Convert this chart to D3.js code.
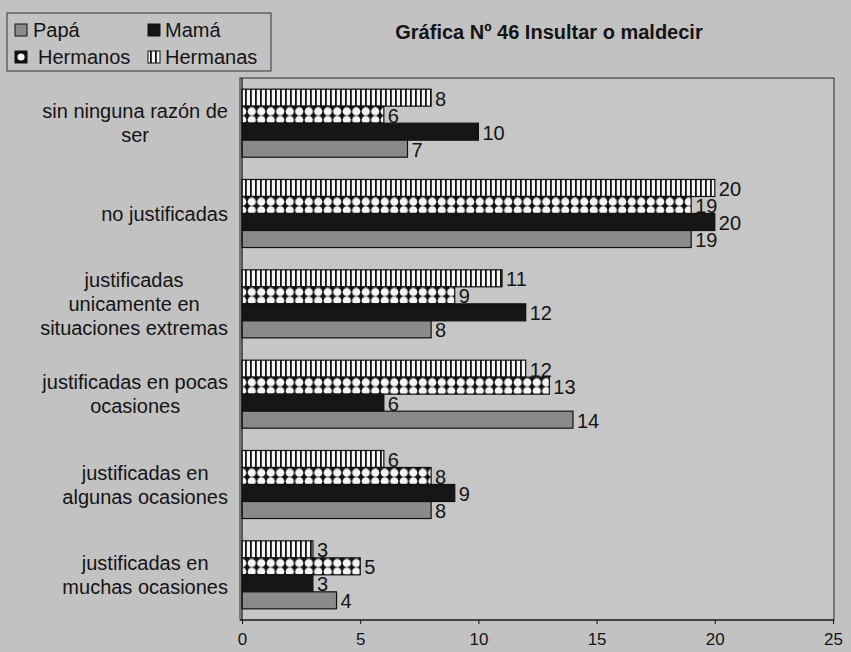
<!DOCTYPE html>
<html>
<head>
<meta charset="utf-8">
<script src="https://cdn.jsdelivr.net/npm/d3@7"></script>
<style>
  html, body { margin: 0; padding: 0; background: #c2c2c2; }
  svg { display: block; }
  text { font-family: "Liberation Sans", Arial, sans-serif; fill: #141414; }
</style>
</head>
<body>
<svg id="chart" width="851" height="652"></svg>
<script>
// ---- data ----
const categories = [
  "sin ninguna razón de|ser",
  "no justificadas",
  "justificadas|unicamente en|situaciones extremas",
  "justificadas en pocas|ocasiones",
  "justificadas en|algunas ocasiones",
  "justificadas en|muchas ocasiones"
];
const seriesNames = ["Hermanas", "Hermanos", "Mamá", "Papá"]; // top-to-bottom in each group
const hermanas = [8, 20, 11, 12, 6, 3];
const hermanos = [6, 19, 9, 13, 8, 5];
const mama = [10, 20, 12, 6, 9, 3];
const papa = [7, 19, 8, 14, 8, 4];
const xTicks = [0, 5, 10, 15, 20, 25];
const legendOrder = ["Papá", "Mamá", "Hermanos", "Hermanas"];
const titleText = "Gráfica Nº 46 Insultar o maldecir";

const seriesValues = { "Hermanas": hermanas, "Hermanos": hermanos, "Mamá": mama, "Papá": papa };

// ---- layout ----
const svg = d3.select("#chart");
const plot = { left: 240, right: 834, top: 78, bottom: 620 };

const defs = svg.append("defs");
// stripes (Hermanas)
const pStripe = defs.append("pattern").attr("id", "pStripe")
  .attr("patternUnits", "userSpaceOnUse").attr("width", 5).attr("height", 10);
pStripe.append("rect").attr("width", 5).attr("height", 10).attr("fill", "#f4f4f4");
pStripe.append("rect").attr("x", 0).attr("width", 1.8).attr("height", 10).attr("fill", "#111");
// circles (Hermanos)
const pDot = defs.append("pattern").attr("id", "pDot")
  .attr("patternUnits", "userSpaceOnUse").attr("width", 9.5).attr("height", 8.5)
  .attr("y", 1);
pDot.append("rect").attr("width", 9.5).attr("height", 8.5).attr("fill", "#111");
pDot.append("circle").attr("cx", 4.75).attr("cy", 4.25).attr("r", 4.1).attr("fill", "#f4f4f4");

const fills = { "Hermanas": "url(#pStripe)", "Hermanos": "url(#pDot)", "Mamá": "#161616", "Papá": "#8a8a8a" };

const x = d3.scaleLinear().domain([0, 25]).range([242, 833]);
const y = d3.scaleBand().domain(categories).range([plot.top, plot.bottom])
  .paddingInner(0.247).paddingOuter(0.1235);
const ySub = d3.scaleBand().domain(seriesNames).range([0, y.bandwidth()]).padding(0);

// plot frame
svg.append("rect").attr("x", plot.left).attr("y", plot.top)
  .attr("width", plot.right - plot.left).attr("height", plot.bottom - plot.top)
  .attr("fill", "#c6c6c6").attr("stroke", "#2a2a2a").attr("stroke-width", 1);

// bars
const groups = svg.append("g").selectAll("g").data(categories).join("g")
  .attr("transform", d => `translate(0,${y(d)})`);

groups.selectAll("rect").data((c, i) => seriesNames.map(s => ({ s, v: seriesValues[s][i] })))
  .join("rect")
  .attr("x", x(0))
  .attr("y", d => ySub(d.s))
  .attr("width", d => x(d.v) - x(0))
  .attr("height", ySub.bandwidth())
  .attr("fill", d => fills[d.s])
  .attr("stroke", "#111").attr("stroke-width", 1.2);

groups.selectAll("text.val").data((c, i) => seriesNames.map(s => ({ s, v: seriesValues[s][i] })))
  .join("text").attr("class", "val")
  .attr("x", d => x(d.v) + 4)
  .attr("y", d => ySub(d.s) + ySub.bandwidth() / 2 + 1)
  .attr("dominant-baseline", "central")
  .attr("font-size", 20)
  .text(d => d.v);

// category labels (wrapped, block right-aligned, lines centered)
const labelRight = 228;
const catG = svg.append("g");
categories.forEach(c => {
  const lines = c.split("|");
  const g = catG.append("g");
  const tmp = lines.map(l => g.append("text").attr("font-size", 20).text(l));
  const maxW = d3.max(tmp, t => t.node().getComputedTextLength());
  const cx = labelRight - maxW / 2;
  const cy = y(c) + y.bandwidth() / 2;
  tmp.forEach((t, i) => {
    t.attr("x", cx).attr("text-anchor", "middle")
      .attr("y", cy + (i - (lines.length - 1) / 2) * 24)
      .attr("dominant-baseline", "central");
  });
});

// axes
const xAxis = d3.axisBottom(x).tickValues(xTicks).tickSize(4).tickPadding(9);
const ax = svg.append("g").attr("transform", `translate(0,${plot.bottom})`).call(xAxis);
ax.select(".domain").attr("stroke", "#111").attr("stroke-width", 1.2)
  .attr("d", `M${plot.left},0H${plot.right}`);
ax.selectAll(".tick line").attr("stroke", "#111");
ax.selectAll(".tick text").attr("font-size", 17).attr("fill", "#222")
  .style("font-family", "'Liberation Sans', Arial, sans-serif");

svg.append("line").attr("x1", x(0)).attr("x2", x(0))
  .attr("y1", plot.top).attr("y2", plot.bottom)
  .attr("stroke", "#111").attr("stroke-width", 1.2);

// title
svg.append("text").attr("x", 549).attr("y", 39).attr("text-anchor", "middle")
  .attr("font-size", 20).attr("font-weight", "bold").text(titleText);

// legend
const lg = svg.append("g");
lg.append("rect").attr("x", 7).attr("y", 13).attr("width", 264).attr("height", 58)
  .attr("fill", "none").attr("stroke", "#333").attr("stroke-width", 1);
const legPos = [
  { name: "Papá", sx: 15, tx: 33, row: 0 },
  { name: "Mamá", sx: 148, tx: 165, row: 0 },
  { name: "Hermanos", sx: 15, tx: 38, row: 1 },
  { name: "Hermanas", sx: 148, tx: 165, row: 1 }
];
legendOrder.forEach(n => {
  const p = legPos.find(d => d.name === n);
  const cy = 30 + p.row * 27;
  if (n === "Hermanos") {
    lg.append("rect").attr("x", p.sx).attr("y", cy - 6).attr("width", 12).attr("height", 12)
      .attr("fill", "#111").attr("stroke", "#111").attr("stroke-width", 1);
    lg.append("circle").attr("cx", p.sx + 6).attr("cy", cy).attr("r", 3.6).attr("fill", "#f4f4f4");
  } else {
    lg.append("rect").attr("x", p.sx).attr("y", cy - 6).attr("width", 12).attr("height", 12)
      .attr("fill", fills[n]).attr("stroke", "#111").attr("stroke-width", 1);
  }
  lg.append("text").attr("x", p.tx).attr("y", cy).attr("dominant-baseline", "central")
    .attr("font-size", 20).text(n);
});
</script>
</body>
</html>
